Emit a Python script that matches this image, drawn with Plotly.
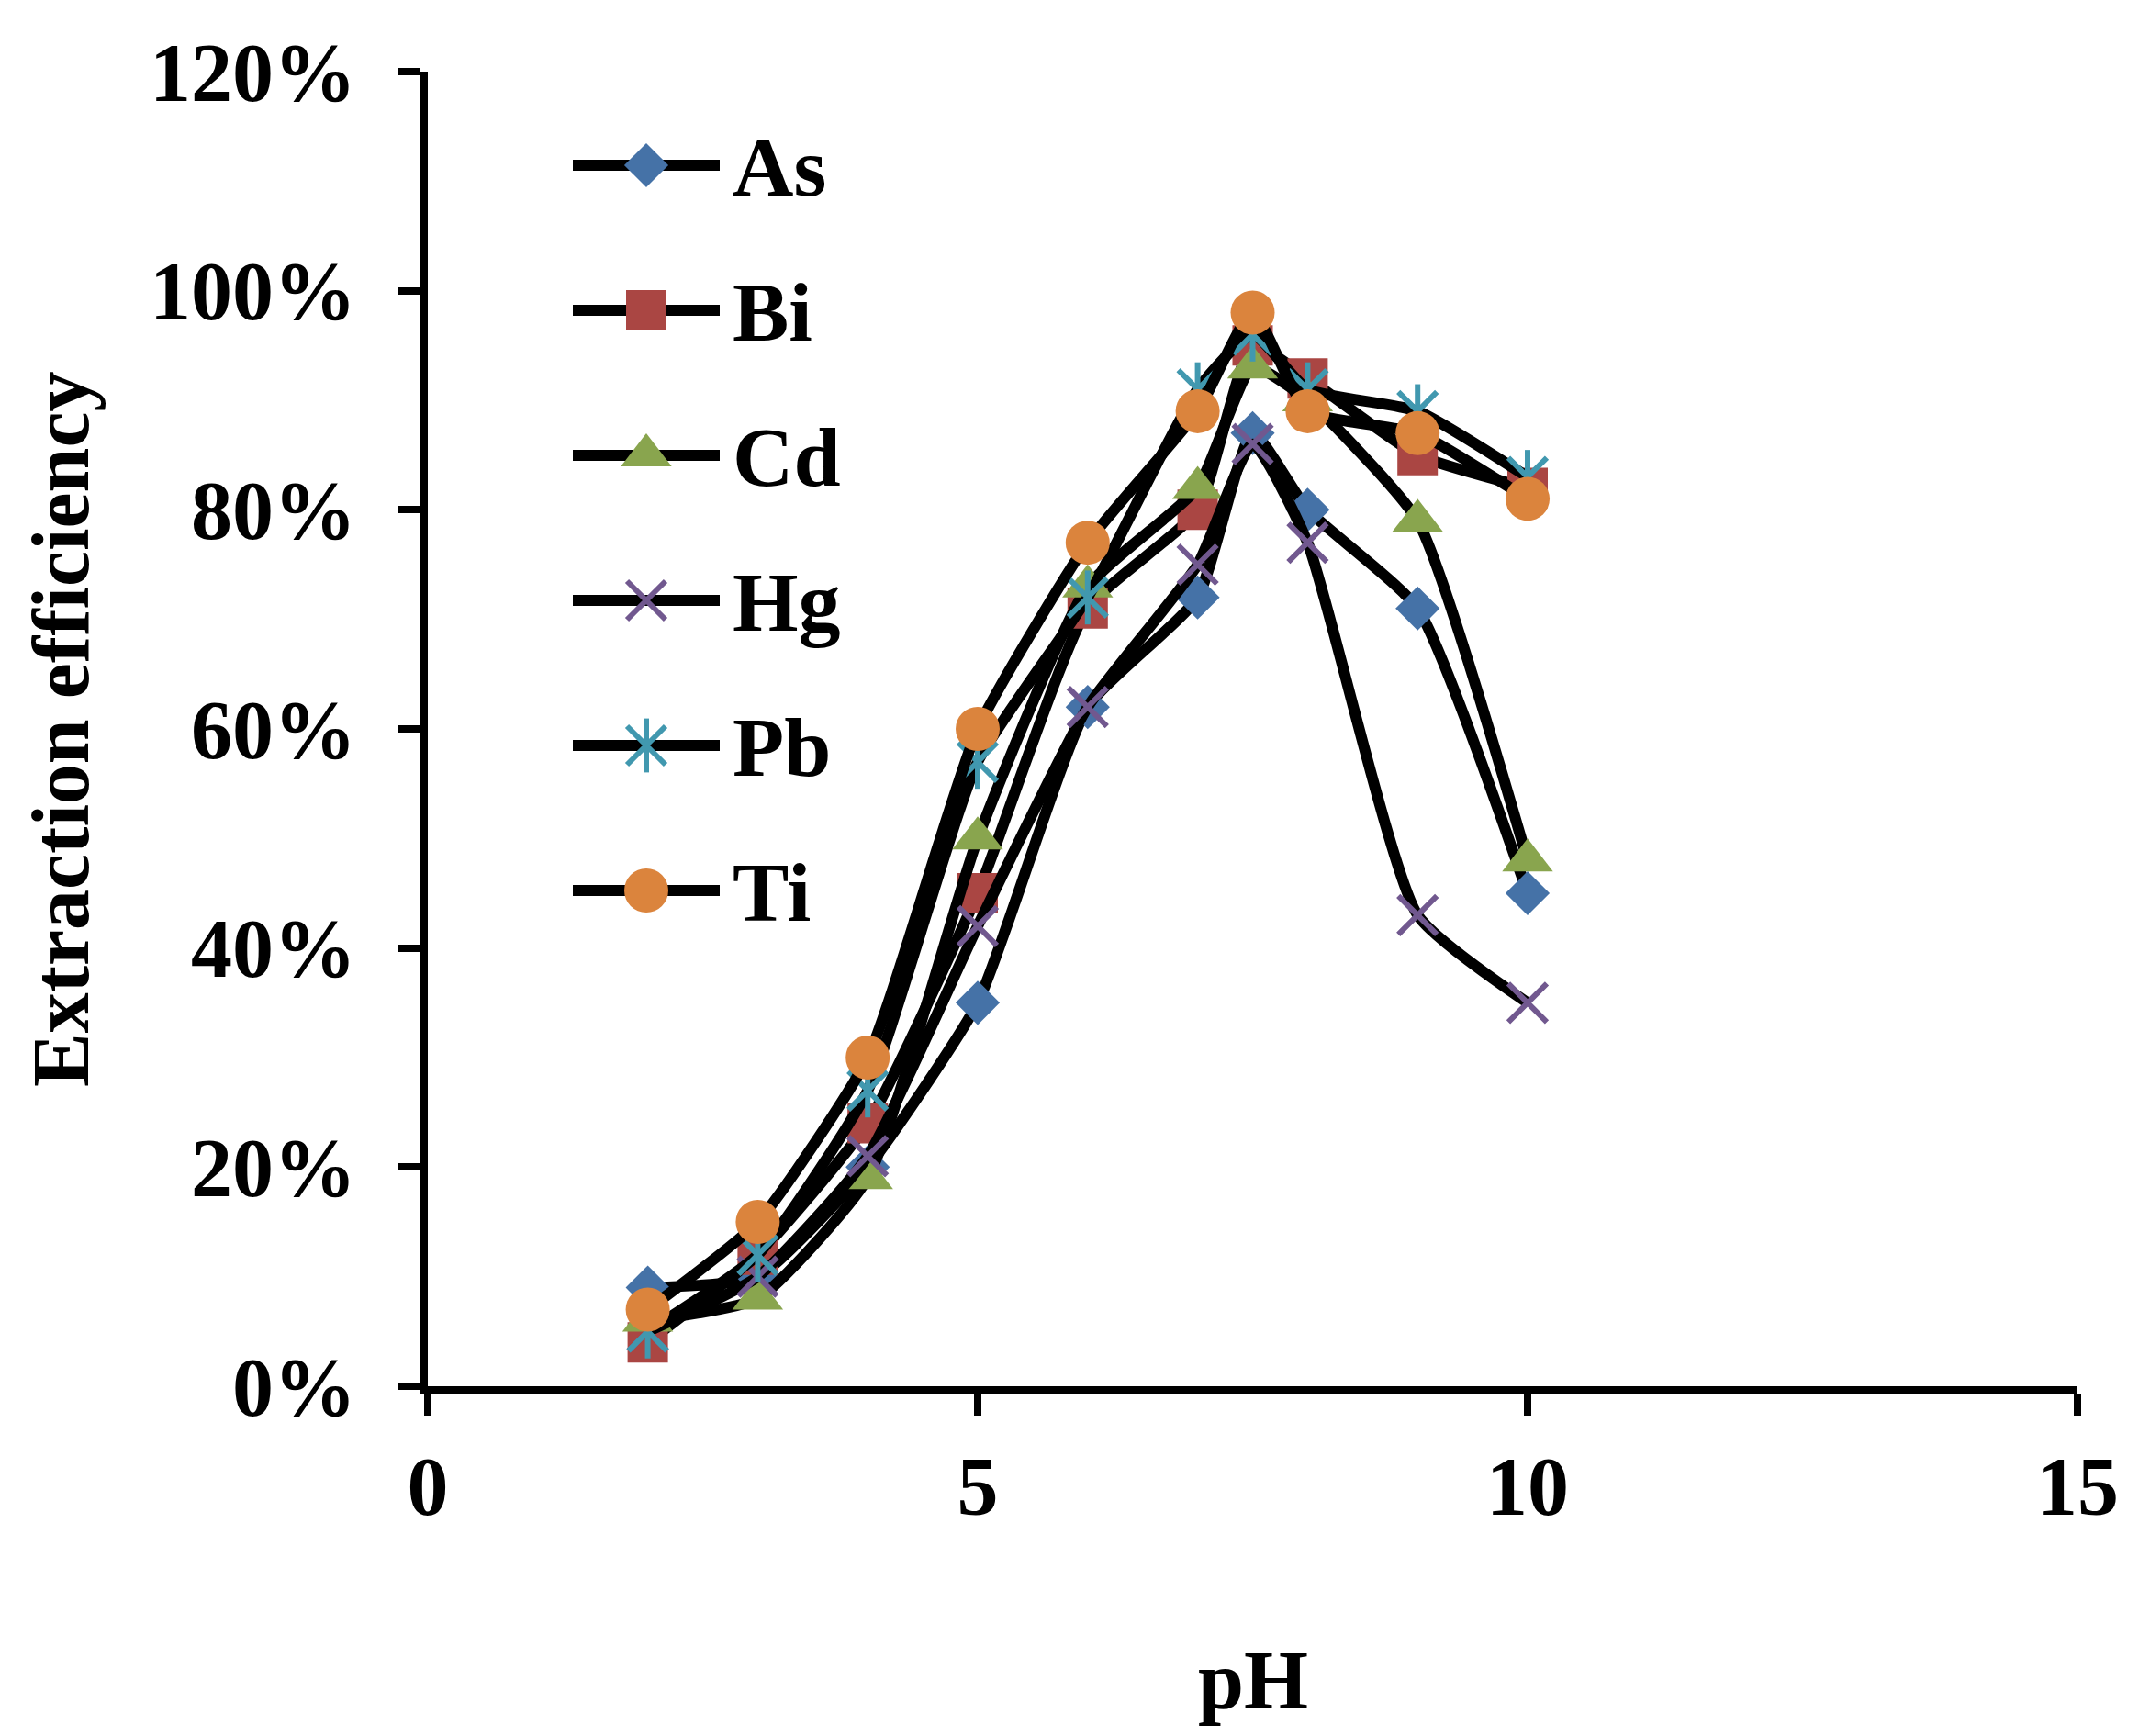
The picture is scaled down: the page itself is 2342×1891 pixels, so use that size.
import plotly.graph_objects as go

# ---------------- data ----------------
ph = [2, 3, 4, 5, 6, 7, 7.5, 8, 9, 10]
series_names = ["As", "Bi", "Cd", "Hg", "Pb", "Ti"]
as_vals = [9, 10, 20, 35, 62, 72, 87, 80, 71, 45]
bi_vals = [4, 12, 24, 45, 71, 80, 95, 92, 85, 82]
cd_vals = [6, 8, 19, 50, 73, 82, 93, 90, 79, 48]
hg_vals = [5, 10, 21, 42, 62, 75, 86, 77, 43, 35]
pb_vals = [5, 12, 27, 57, 72, 91, 96, 91, 89, 83]
ti_vals = [7, 15, 30, 60, 77, 89, 98, 89, 87, 81]
series_values = [as_vals, bi_vals, cd_vals, hg_vals, pb_vals, ti_vals]
x_ticks = [0, 5, 10, 15]
y_ticks = [0, 0.2, 0.4, 0.6, 0.8, 1.0, 1.2]
y_tick_labels = ["0%", "20%", "40%", "60%", "80%", "100%", "120%"]

# ---------------- styles ----------------
colors = ["#4572A7", "#AA4643", "#89A54E", "#71588F", "#4198AF", "#DB843D"]
symbols = ["diamond", "square", "triangle-up", "x-thin-open", "x-thin-open", "circle"]
sizes = [37, 44, 48, 42, 42, 48]
FONT = "Liberation Serif, Times New Roman, serif"
LINE_W = 12
BODY = 8  # default page body margin

W, H = 2342 - BODY, 1891 - BODY
L, R, T, B = 466 - BODY, 79, 78 - BODY, 381
plot_w = W - L - R
plot_h = H - T - B

fig = go.Figure()


def marker_for(i):
    m = dict(symbol=symbols[i], size=sizes[i], color=colors[i])
    if symbols[i].endswith("-open"):
        m["line"] = dict(color=colors[i], width=6)
    else:
        m["line"] = dict(width=0)
    return m


def star_arm(i):
    return dict(symbol="line-ns-open", size=sizes[i], color=colors[i],
                line=dict(color=colors[i], width=6))


for i, name in enumerate(series_names):
    yv = [v / 100 for v in series_values[i]]
    fig.add_trace(go.Scatter(
        x=ph, y=yv, name=name, mode="lines+markers",
        line=dict(color="black", width=LINE_W, shape="spline", smoothing=0.5),
        marker=marker_for(i), showlegend=False, cliponaxis=False,
        xaxis="x", yaxis="y"))
    if name == "Pb":
        # vertical arm of the star marker
        fig.add_trace(go.Scatter(
            x=ph, y=yv, mode="markers", showlegend=False, cliponaxis=False,
            marker=star_arm(i), xaxis="x", yaxis="y"))

# ---------------- custom legend (long line + centred marker) ----------------
leg_x0, leg_x1 = 624 - BODY, 784 - BODY     # pixel extent of legend line
leg_top, leg_step = 180 - BODY, 158          # first row centre, row spacing (px)
n = len(series_names)
dom_x = [(leg_x0 - L) / plot_w, (leg_x1 - L) / plot_w]
top_px = leg_top - leg_step / 2 - T
dom_y_top = 1 - top_px / plot_h
dom_y_bot = dom_y_top - n * leg_step / plot_h
for i, name in enumerate(series_names):
    fig.add_trace(go.Scatter(
        x=[0, 1], y=[-i, -i], mode="lines", showlegend=False, hoverinfo="skip",
        line=dict(color="black", width=LINE_W), xaxis="x2", yaxis="y2"))
    fig.add_trace(go.Scatter(
        x=[0.5], y=[-i], mode="markers", showlegend=False, hoverinfo="skip",
        marker=marker_for(i), xaxis="x2", yaxis="y2"))
    if name == "Pb":
        fig.add_trace(go.Scatter(
            x=[0.5], y=[-i], mode="markers", showlegend=False, hoverinfo="skip",
            marker=star_arm(i), xaxis="x2", yaxis="y2"))
    fig.add_annotation(x=1, y=-i, xref="x2", yref="y2", text=name,
                       showarrow=False, xanchor="left", yanchor="middle",
                       xshift=12, yshift=-2,
                       font=dict(family=FONT, size=92, color="black", weight="bold"))

# ---------------- axis titles ----------------
fig.add_annotation(x=0.5, y=-(1830 - BODY - (H - B)) / plot_h, xref="paper", yref="paper",
                   text="pH", showarrow=False, xanchor="center", yanchor="middle",
                   font=dict(family=FONT, size=90, color="black", weight="bold"))
fig.add_annotation(x=(66 - BODY - L) / plot_w, y=0.5, xref="paper", yref="paper",
                   text="Extraction efficiency", textangle=-90, showarrow=False,
                   xanchor="center", yanchor="middle",
                   font=dict(family=FONT, size=88, color="black", weight="bold"))

tick_font = dict(family=FONT, size=90, color="black", weight="bold")
fig.update_layout(
    width=W, height=H,
    margin=dict(l=L, r=R, t=T, b=B, pad=0),
    paper_bgcolor="white", plot_bgcolor="white",
    showlegend=False,
    xaxis=dict(range=[0, 15], tickvals=x_ticks, ticks="outside", ticklen=24,
               tickwidth=8, tickcolor="black", showline=True, linecolor="black",
               linewidth=8, showgrid=False, zeroline=False, tickfont=tick_font,
               ticklabelstandoff=0),
    yaxis=dict(range=[0, 1.2], tickvals=y_ticks, ticktext=y_tick_labels,
               ticks="outside", ticklen=24, tickwidth=8, tickcolor="black",
               showline=True, linecolor="black", linewidth=8, showgrid=False,
               zeroline=False, tickfont=tick_font, ticklabelstandoff=28),
    xaxis2=dict(domain=dom_x, range=[0, 1], visible=False, anchor="y2",
                fixedrange=True),
    yaxis2=dict(domain=[dom_y_bot, dom_y_top], range=[-n + 0.5, 0.5],
                visible=False, anchor="x2", fixedrange=True),
)

fig.write_html("out.html")
